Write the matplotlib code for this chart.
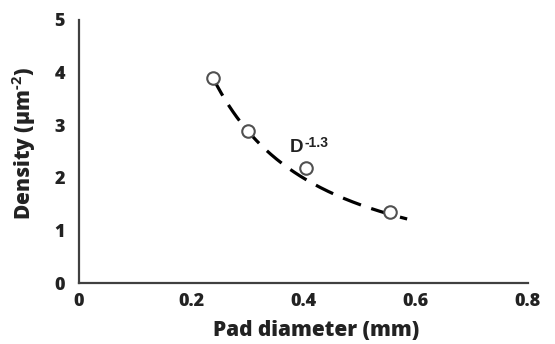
import numpy as np
import matplotlib
matplotlib.use("Agg")
import matplotlib.pyplot as plt

# Data
pad_diameter = [0.239, 0.301, 0.405, 0.554]
density = [3.90, 2.89, 2.19, 1.35]

fit_exponent = -1.3
fit_coefficient = 0.607
fit_x_range = [0.24, 0.585]

x_ticks = [0, 0.2, 0.4, 0.6, 0.8]
x_tick_labels = ["0", "0.2", "0.4", "0.6", "0.8"]
y_ticks = [0, 1, 2, 3, 4, 5]

xf = np.linspace(fit_x_range[0], fit_x_range[1], 200)
yf = fit_coefficient * xf ** fit_exponent

plt.rcParams['font.family'] = ['Open Sans', 'DejaVu Sans']
plt.rcParams['mathtext.fontset'] = 'custom'
plt.rcParams['mathtext.rm'] = 'Open Sans:bold'
plt.rcParams['mathtext.bf'] = 'Open Sans:bold'
plt.rcParams['mathtext.it'] = 'Open Sans:bold'

fig = plt.figure(figsize=(5.55, 3.44), dpi=100)
ax = fig.add_axes([0.142, 0.177, 0.809, 0.765])

ax.plot(xf, yf, color='black', lw=2.3, dashes=(6, 3.4), zorder=2)
ax.plot(pad_diameter, density, 'o', ms=9, mfc='white', mec='#505050', mew=1.5, zorder=3)

ax.text(0.375, 2.49, "D", fontsize=13.5, fontweight='bold', family='Liberation Sans',
        color='#222222', va='baseline')
ax.text(0.403, 2.585, "-1.3", fontsize=10, fontweight='bold', family='Liberation Sans',
        color='#222222', va='baseline')

ax.set_xlim(0, 0.8)
ax.set_ylim(0, 5)
ax.set_xticks(x_ticks)
ax.set_xticklabels(x_tick_labels)
ax.set_yticks(y_ticks)
ax.tick_params(length=0, labelsize=13, colors='#222222')
ax.tick_params(axis='x', pad=7)
ax.tick_params(axis='y', pad=10)
for lbl in ax.get_xticklabels() + ax.get_yticklabels():
    lbl.set_fontweight('heavy')
for s in ['top', 'right']:
    ax.spines[s].set_visible(False)
for s in ['left', 'bottom']:
    ax.spines[s].set_color('#404040')
    ax.spines[s].set_linewidth(1.6)

ax.set_xlabel("Pad diameter (mm)", fontsize=15, fontweight='heavy', color='#222222')
ax.set_ylabel("Density (μm$^{\\text{-2}}$)", fontsize=15, fontweight='heavy', color='#222222')
ax.xaxis.set_label_coords(0.529, -0.14)
ax.yaxis.set_label_coords(-0.09, 0.53)

fig.savefig("out.png", dpi=100)
